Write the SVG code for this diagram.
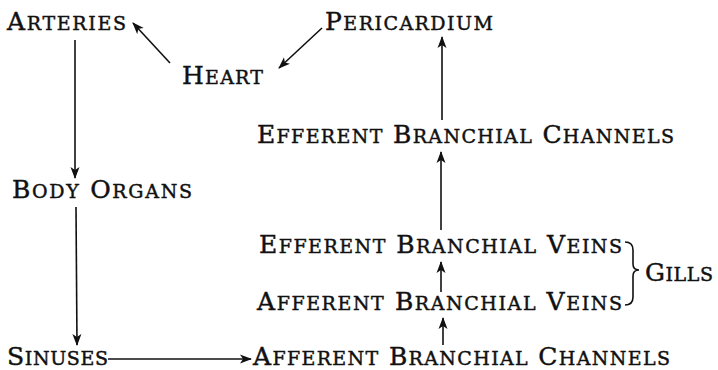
<svg xmlns="http://www.w3.org/2000/svg" width="718" height="370" viewBox="0 0 718 370">
<style>
  text { font-family: "DejaVu Serif", "Liberation Serif", serif; font-size: 25px; fill: #111; stroke: #111; stroke-width: 0.45; }
  .s { font-size: 19px; }
  .c { stroke: #111; stroke-width: 1.6; fill: none; }
</style>
<defs>
  <marker id="ah" viewBox="0 0 12 10" refX="11" refY="5" markerWidth="12" markerHeight="10" markerUnits="userSpaceOnUse" orient="auto">
    <path d="M0,0.5 L12,5 L0,9.5 L3,5 Z" fill="#111"/>
  </marker>
</defs>
<rect width="718" height="370" fill="#fff"/>
<g id="arteries"><text x="7" y="30" textLength="119" lengthAdjust="spacing">A<tspan class="s">RTERIES</tspan></text></g>
<g id="pericardium"><text x="325" y="30" textLength="168" lengthAdjust="spacing">P<tspan class="s">ERICARDIUM</tspan></text></g>
<g id="heart"><text x="182" y="84" textLength="81" lengthAdjust="spacing">H<tspan class="s">EART</tspan></text></g>
<g id="efferent-branchial-channels"><text x="257" y="143" textLength="417" lengthAdjust="spacing">E<tspan class="s">FFERENT</tspan> B<tspan class="s">RANCHIAL</tspan> C<tspan class="s">HANNELS</tspan></text></g>
<g id="body-organs"><text x="12" y="198" textLength="180" lengthAdjust="spacing">B<tspan class="s">ODY</tspan> O<tspan class="s">RGANS</tspan></text></g>
<g id="efferent-branchial-veins"><text x="259" y="253" textLength="363" lengthAdjust="spacing">E<tspan class="s">FFERENT</tspan> B<tspan class="s">RANCHIAL</tspan> V<tspan class="s">EINS</tspan></text></g>
<g id="afferent-branchial-veins"><text x="257" y="310" textLength="365" lengthAdjust="spacing">A<tspan class="s">FFERENT</tspan> B<tspan class="s">RANCHIAL</tspan> V<tspan class="s">EINS</tspan></text></g>
<g id="gills">
  <path class="c" d="M625,242 Q633,242 633,250 L633,264 Q633,270 639,270 Q633,270 633,276 L633,297 Q633,305 625,305"/>
  <text x="645" y="281" textLength="68" lengthAdjust="spacing">G<tspan class="s">ILLS</tspan></text>
</g>
<g id="sinuses"><text x="7" y="365" textLength="101" lengthAdjust="spacing">S<tspan class="s">INUSES</tspan></text></g>
<g id="afferent-branchial-channels"><text x="253" y="365" textLength="417" lengthAdjust="spacing">A<tspan class="s">FFERENT</tspan> B<tspan class="s">RANCHIAL</tspan> C<tspan class="s">HANNELS</tspan></text></g>
<g id="connectors">
  <line class="c" x1="170" y1="63" x2="133" y2="23" marker-end="url(#ah)"/>
  <line class="c" x1="322" y1="28" x2="279" y2="68" marker-end="url(#ah)"/>
  <line class="c" x1="75" y1="40" x2="75" y2="178" marker-end="url(#ah)"/>
  <line class="c" x1="76" y1="207" x2="77" y2="345" marker-end="url(#ah)"/>
  <line class="c" x1="108" y1="359" x2="251" y2="359" marker-end="url(#ah)"/>
  <line class="c" x1="443" y1="345" x2="443" y2="318" marker-end="url(#ah)"/>
  <line class="c" x1="441" y1="292" x2="441" y2="262" marker-end="url(#ah)"/>
  <line class="c" x1="441" y1="230" x2="441" y2="152" marker-end="url(#ah)"/>
  <line class="c" x1="442" y1="120" x2="442" y2="37" marker-end="url(#ah)"/>
</g>
</svg>
